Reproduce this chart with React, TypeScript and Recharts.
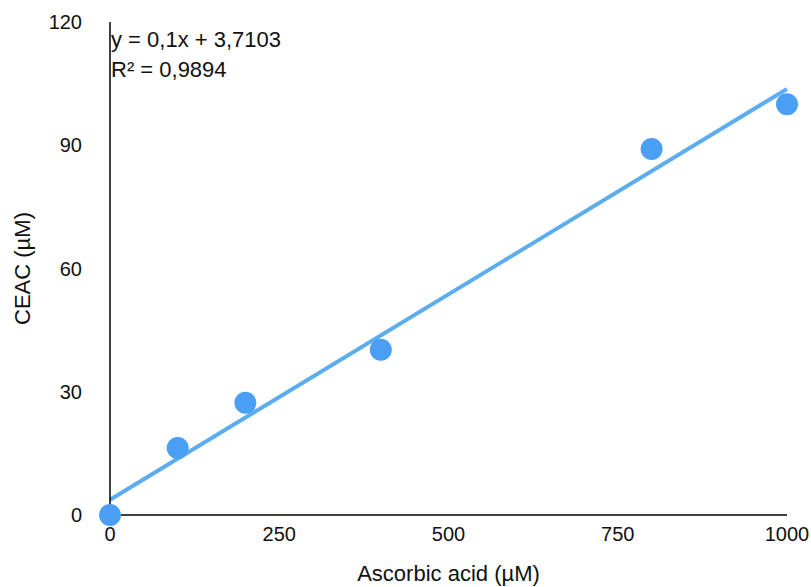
import React from 'react'
import { ComposedChart, Scatter, XAxis, YAxis, ReferenceLine, Label } from 'recharts'

const concentrations = [0, 100, 200, 400, 800, 1000]
const ceacValues = [0, 16.3, 27.3, 40.2, 89.1, 100]
const xTicks = [0, 250, 500, 750, 1000]
const yTicks = [0, 30, 60, 90, 120]
// trendline y = 0,1x + 3,7103 at the ends of the x range
const trendStart = { x: 0, y: 3.7103 }
const trendEnd = { x: 1000, y: 103.7103 }

const points = concentrations.map((x, i) => ({ x, y: ceacValues[i] }))

const FONT = '"Liberation Sans", Arial, Helvetica, sans-serif'
const tickStyle = { fontSize: 20, fill: '#111', fontFamily: FONT }
const titleStyle = { fontSize: 22, fill: '#111', fontFamily: FONT }

export default function App() {
  return (
    <div style={{ position: 'absolute', left: 0, top: 0, width: 811, height: 587, background: '#fff', fontFamily: FONT }}>
      <ComposedChart width={811} height={587} margin={{ top: 22, right: 24, bottom: 0, left: 0 }}>
        <XAxis
          type="number"
          dataKey="x"
          domain={[0, 1000]}
          ticks={xTicks}
          tickLine={false}
          tickSize={0}
          tickMargin={12}
          height={72}
          axisLine={{ stroke: '#000', strokeWidth: 1.5 }}
          tick={tickStyle}
          interval={0}
        >
          <Label value="Ascorbic acid (µM)" position="insideBottom" offset={6} style={titleStyle} />
        </XAxis>
        <YAxis
          type="number"
          dataKey="y"
          domain={[0, 120]}
          ticks={yTicks}
          tickLine={false}
          tickSize={0}
          tickMargin={28}
          width={110}
          axisLine={{ stroke: '#000', strokeWidth: 1.5 }}
          tick={tickStyle}
          interval={0}
        >
          <Label value="CEAC (µM)" angle={-90} position="insideLeft" offset={22} style={{ ...titleStyle, textAnchor: 'middle' }} />
        </YAxis>
        <Scatter data={points} fill="#4a9ff5" shape={(p: any) => <circle cx={p.cx} cy={p.cy} r={11} fill="#4a9ff5" />} isAnimationActive={false} />
        <ReferenceLine
          segment={[trendStart, trendEnd]}
          stroke="#5cadf0"
          strokeWidth={4}
          ifOverflow="visible"
        />
      </ComposedChart>
      <div style={{ position: 'absolute', left: 111, top: 25, fontSize: 22, lineHeight: '30px', color: '#111' }}>
        <div>y = 0,1x + 3,7103</div>
        <div>R² = 0,9894</div>
      </div>
    </div>
  )
}
